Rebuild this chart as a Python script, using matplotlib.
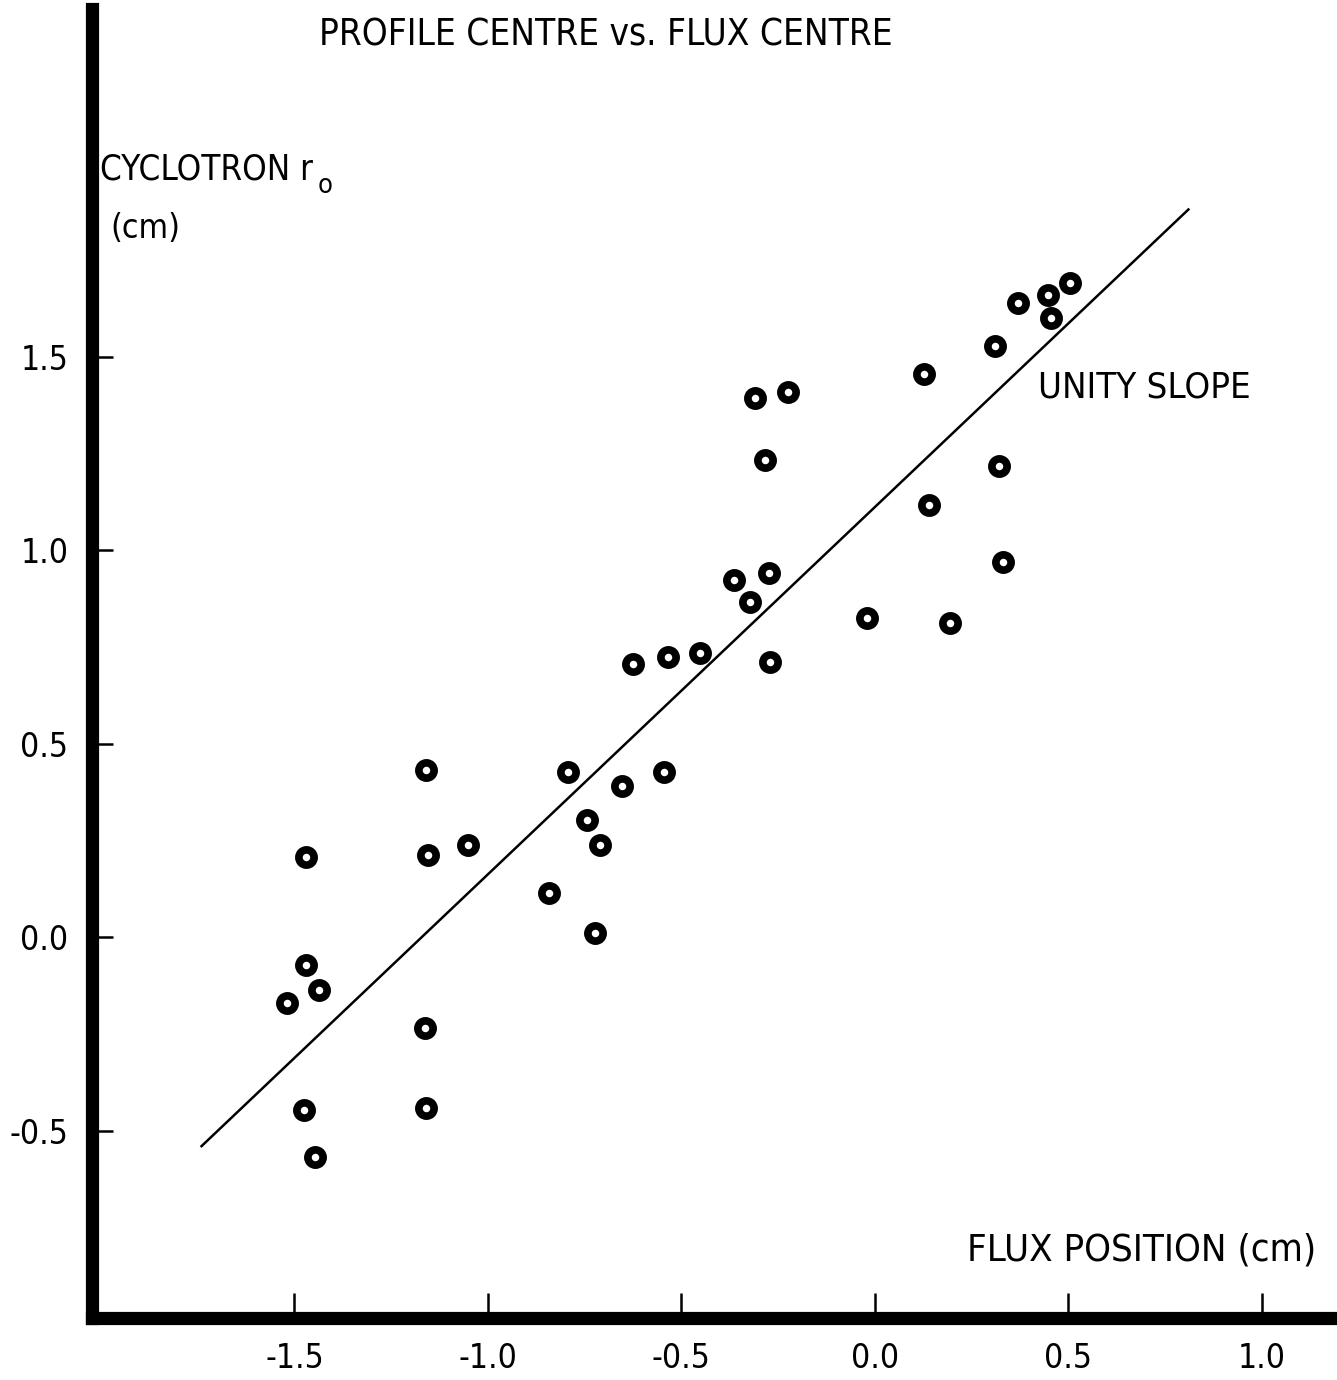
import matplotlib.pyplot as plt
from matplotlib import font_manager as fm
import numpy as np

W, H = 1337, 1380

# flux position (cm) vs cyclotron r0 (cm)
flux_x = [-1.470, -1.160, -1.155, -1.052, -1.470, -1.437, -1.519, -1.163, -1.475,
          -1.160, -1.447, -0.842, -0.793, -0.744, -0.711, -0.724, -0.654, -0.545,
          -0.625, -0.535, -0.452, -0.364, -0.323, -0.274, -0.271, -0.284, -0.310,
          -0.225, -0.021, 0.127, 0.140, 0.194, 0.310, 0.320, 0.331, 0.370, 0.447,
          0.455, 0.504]
cyc_r0 = [0.207, 0.432, 0.212, 0.238, -0.072, -0.137, -0.171, -0.235, -0.447,
          -0.442, -0.568, 0.114, 0.426, 0.302, 0.238, 0.010, 0.390, 0.426,
          0.705, 0.724, 0.734, 0.922, 0.866, 0.941, 0.711, 1.233, 1.393,
          1.408, 0.824, 1.455, 1.116, 0.811, 1.527, 1.217, 0.969, 1.638, 1.659,
          1.599, 1.690]

# "unity slope" line end points
line_x = [-1.74, 0.81]
line_y = [-0.54, 1.88]

xticks = [-1.5, -1.0, -0.5, 0.0, 0.5, 1.0]
yticks = [-0.5, 0.0, 0.5, 1.0, 1.5]

# look for a narrow face, the scan uses a tall condensed typewriter lettering
narrow = [f for f in fm.fontManager.ttflist
          if ('Narrow' in f.name or 'Condensed' in f.name
              or f.stretch in ('condensed', 'semi-condensed', 'extra-condensed', 500, 400))
          and f.stretch not in ('normal',)]
stretch = 'normal'
fam = 'DejaVu Sans'
for f in narrow:
    if isinstance(f.stretch, str) and 'condensed' in f.stretch or 'Narrow' in f.name or 'Condensed' in f.name:
        fam = f.name
        stretch = f.stretch
        break
plt.rcParams['font.family'] = [fam, 'DejaVu Sans']
plt.rcParams['font.stretch'] = stretch

fig = plt.figure(figsize=(W / 100, H / 100), dpi=100)
ax = fig.add_axes([92 / W, (H - 1318) / H, 1 - 92 / W, (1318 - 9) / H])
ax.set_xlim(-2.023, 1.194)
ax.set_ylim(-0.984, 2.398)

for s in ['top', 'right']:
    ax.spines[s].set_visible(False)
for s in ['left', 'bottom']:
    ax.spines[s].set_linewidth(9.5)
    ax.spines[s].set_capstyle('projecting')

ax.plot(line_x, line_y, color='black', lw=1.8)
ax.plot(flux_x, cyc_r0, 'o', ms=11, mfc='white', mec='black', mew=5.5, clip_on=False)

fig.canvas.draw()
renderer = fig.canvas.get_renderer()

def fit_size(s, target_w, size=30):
    t = fig.text(0, 0, s, fontsize=size)
    w = t.get_window_extent(renderer).width
    t.remove()
    return size * target_w / w

tick_size = fit_size('0.0', 48)

ax.set_xticks(xticks)
ax.set_yticks(yticks)
ax.set_xticklabels([f'{v:.1f}' for v in xticks])
ax.set_yticklabels([f'{v:.1f}' for v in yticks])
ax.tick_params(direction='in', length=15, width=1.8, labelsize=tick_size, color='black')
ax.tick_params(axis='x', length=18, pad=17)
ax.tick_params(axis='y', pad=17)

def ftext(x, y, s, target_w, **kw):
    size = fit_size(s, target_w)
    return fig.text(x / W, 1 - y / H, s, fontsize=size, va='center', **kw)

ftext(606, 35, 'PROFILE CENTRE vs. FLUX CENTRE', 573, ha='center')
ftext(100, 170, 'CYCLOTRON r', 212, ha='left')
ftext(318, 186, 'o', 15, ha='left')
ftext(110, 229, '(cm)', 70, ha='left')
ftext(1038, 388, 'UNITY SLOPE', 212, ha='left')
ftext(1316, 1251, 'FLUX POSITION (cm)', 349, ha='right')

fig.savefig('out.png', dpi=100)
